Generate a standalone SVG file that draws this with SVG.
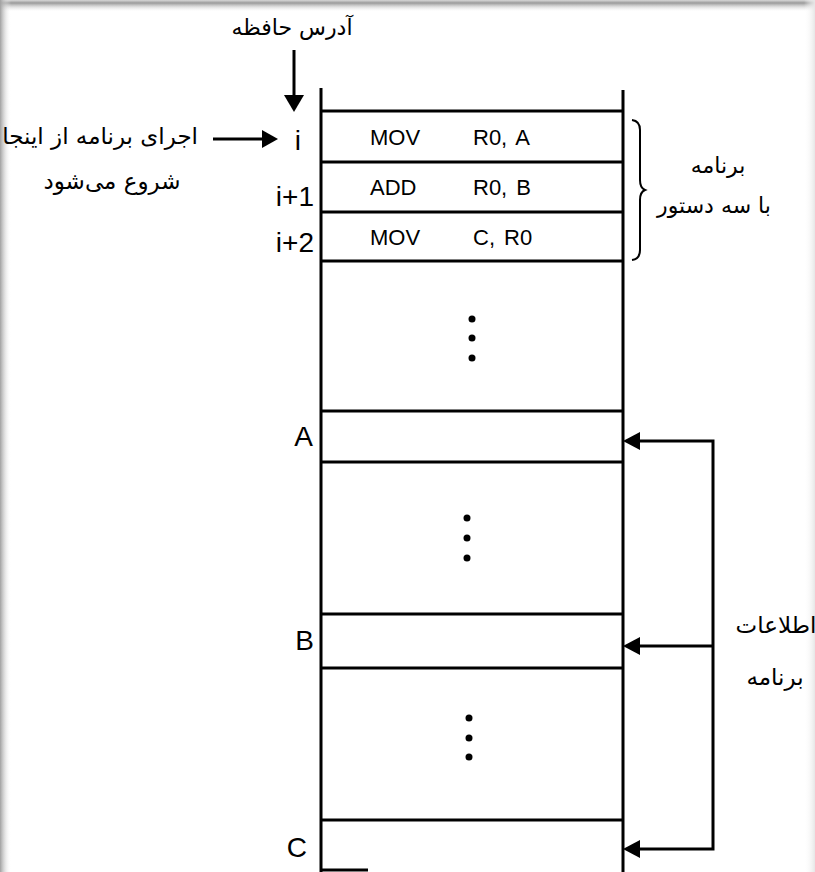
<svg xmlns="http://www.w3.org/2000/svg" width="815" height="872" viewBox="0 0 815 872">
<defs>
<linearGradient id="gTop" x1="0" y1="0" x2="0" y2="1">
<stop offset="0" stop-color="#d8d8d8"/><stop offset="0.25" stop-color="#9a9a9a"/><stop offset="1" stop-color="#ffffff" stop-opacity="0"/>
</linearGradient>
<linearGradient id="gLeft" x1="0" y1="0" x2="1" y2="0">
<stop offset="0" stop-color="#a0a0a0"/><stop offset="1" stop-color="#ffffff" stop-opacity="0"/>
</linearGradient>
<linearGradient id="gRight" x1="0" y1="0" x2="1" y2="0">
<stop offset="0" stop-color="#ffffff" stop-opacity="0"/><stop offset="1" stop-color="#e6e6e6"/>
</linearGradient>
<style>
.ln{stroke:#000;stroke-width:3;fill:none}
.lbl{font-family:"Liberation Sans",Arial,sans-serif;font-size:28px;fill:#000}
.ins{font-family:"Liberation Sans",Arial,sans-serif;font-size:22px;fill:#000;word-spacing:3px}
.fa{font-family:"DejaVu Sans","Noto Sans",sans-serif;font-size:22px;fill:#000}
.fb{font-family:"DejaVu Sans","Noto Sans",sans-serif;font-size:23px;fill:#000}
.hd{fill:#000}
</style>
</defs>
<rect width="815" height="872" fill="#fff"/>
<rect x="0" y="0" width="815" height="12" fill="url(#gTop)"/>
<rect x="0" y="0" width="11" height="872" fill="url(#gLeft)"/>
<rect x="804" y="0" width="11" height="872" fill="url(#gRight)"/>

<g id="memory">
<line class="ln" x1="321" y1="88" x2="321" y2="872"/>
<line class="ln" x1="623" y1="90" x2="623" y2="872"/>
<line class="ln" x1="321" y1="111" x2="623" y2="111"/>
<line class="ln" x1="321" y1="162" x2="623" y2="162"/>
<line class="ln" x1="321" y1="212" x2="623" y2="212"/>
<line class="ln" x1="321" y1="261" x2="623" y2="261"/>
<line class="ln" x1="321" y1="411" x2="623" y2="411"/>
<line class="ln" x1="321" y1="462" x2="623" y2="462"/>
<line class="ln" x1="321" y1="614" x2="623" y2="614"/>
<line class="ln" x1="321" y1="668" x2="623" y2="668"/>
<line class="ln" x1="321" y1="820" x2="623" y2="820"/>
<line class="ln" x1="321" y1="870" x2="368" y2="870"/>
</g>

<g id="row-i">
<text class="lbl" x="301" y="150" text-anchor="end">i</text>
<text class="ins" x="370" y="145">MOV</text>
<text class="ins" x="473" y="145">R0, A</text>
</g>
<g id="row-i1">
<text class="lbl" x="314" y="206" text-anchor="end">i+1</text>
<text class="ins" x="370" y="195">ADD</text>
<text class="ins" x="473" y="195">R0, B</text>
</g>
<g id="row-i2">
<text class="lbl" x="314" y="252" text-anchor="end">i+2</text>
<text class="ins" x="370" y="245">MOV</text>
<text class="ins" x="473" y="245">C, R0</text>
</g>

<g id="dots1" class="hd">
<circle cx="472" cy="319" r="3.5"/><circle cx="472" cy="338" r="3.5"/><circle cx="472" cy="358" r="3.5"/>
</g>
<g id="row-A"><text class="lbl" x="313" y="446" text-anchor="end">A</text></g>
<g id="dots2" class="hd">
<circle cx="467" cy="518" r="3.5"/><circle cx="467" cy="538" r="3.5"/><circle cx="467" cy="558" r="3.5"/>
</g>
<g id="row-B"><text class="lbl" x="314" y="650" text-anchor="end">B</text></g>
<g id="dots3" class="hd">
<circle cx="469" cy="718" r="3.5"/><circle cx="469" cy="738" r="3.5"/><circle cx="469" cy="757" r="3.5"/>
</g>
<g id="row-C"><text class="lbl" x="307" y="857" text-anchor="end">C</text></g>

<g id="label-address"><text class="fa" x="292" y="35" text-anchor="middle">آدرس حافظه</text></g>
<g id="label-start">
<text class="fb" x="198" y="144" text-anchor="end">اجرای برنامه از اینجا</text>
<text class="fb" x="112" y="189" text-anchor="middle">شروع می‌شود</text>
</g>
<g id="label-program">
<text class="fa" x="718" y="173" text-anchor="middle">برنامه</text>
<text class="fa" x="714" y="213" text-anchor="middle">با سه دستور</text>
</g>
<g id="label-data">
<text class="fb" x="776" y="633" text-anchor="middle">اطلاعات</text>
<text class="fb" x="775" y="685" text-anchor="middle">برنامه</text>
</g>

<g id="connectors">
<line class="ln" x1="294" y1="50" x2="294" y2="97"/>
<polygon class="hd" points="284,95 304,95 294,112"/>
<line class="ln" x1="213" y1="139" x2="264" y2="139"/>
<polygon class="hd" points="262,130 262,148 278,139"/>
<path d="M632,120 Q640,121 640,130 L640,180 Q640,188 645,190 Q640,192 640,200 L640,250 Q640,259 632,260" stroke="#000" stroke-width="2" fill="none"/>
<polyline class="ln" points="638,441 713,441 713,849 638,849"/>
<line class="ln" x1="638" y1="646" x2="713" y2="646"/>
<polygon class="hd" points="640,432 640,450 623,441"/>
<polygon class="hd" points="640,637 640,655 623,646"/>
<polygon class="hd" points="640,840 640,858 623,849"/>
</g>
</svg>
